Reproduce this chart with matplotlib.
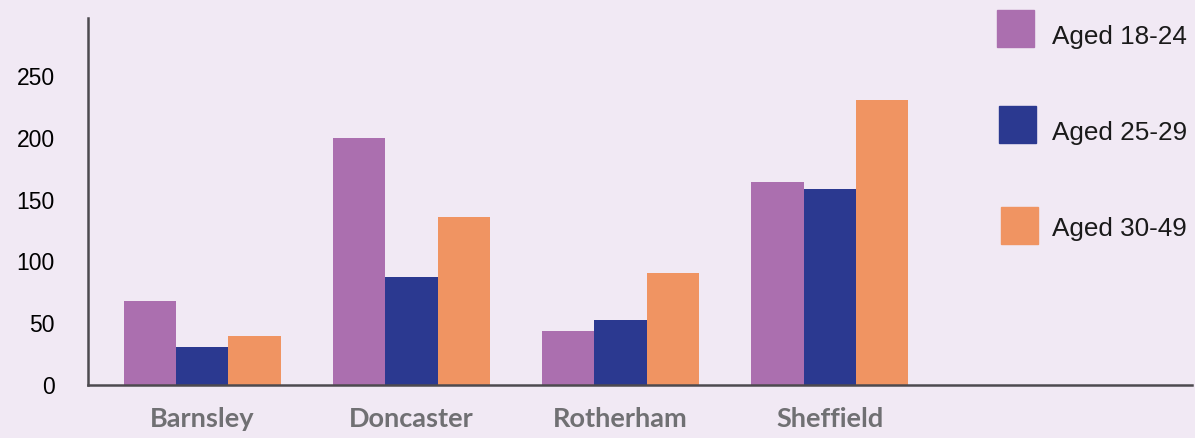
import matplotlib
matplotlib.use("Agg")
import matplotlib.pyplot as plt
from matplotlib.patches import Rectangle
import numpy as np

# data
areas = ["Barnsley", "Doncaster", "Rotherham", "Sheffield"]
series = ["Aged 18-24", "Aged 25-29", "Aged 30-49"]
aged_18_24 = [68, 200, 44, 164]
aged_25_29 = [31, 87, 53, 159]
aged_30_49 = [40, 136, 91, 231]
yticks = [0, 50, 100, 150, 200, 250]

colors = ["#ab6faf", "#2b3990", "#f09462"]
bg = "#f1e9f4"

fig = plt.figure(figsize=(11.95, 4.38), dpi=100, facecolor=bg)
ax = fig.add_axes([88 / 1195, 1 - 385 / 438, (1192 - 88) / 1195, (385 - 18) / 438])
ax.set_facecolor(bg)

x = np.arange(len(areas))
w = 0.25
for i, vals in enumerate([aged_18_24, aged_25_29, aged_30_49]):
    ax.bar(x + (i - 1) * w, vals, width=w, color=colors[i], label=series[i], zorder=2)

ax.set_xlim(-0.545, 4.73)
ax.set_ylim(0, 297)
ax.set_yticks(yticks)
ax.set_yticklabels([str(t) for t in yticks], fontsize=16.5, family="Liberation Sans", color="black")
ax.tick_params(axis="y", length=0, pad=24)
ax.set_xticks(x)
ax.set_xticklabels(areas, fontsize=19.5, family="Lato", fontweight="bold", color="#707073")
ax.tick_params(axis="x", length=0, pad=16)

for s in ["top", "right"]:
    ax.spines[s].set_visible(False)
for s in ["left", "bottom"]:
    ax.spines[s].set_color("#4d4a4f")
    ax.spines[s].set_linewidth(1.8)
    ax.spines[s].set_zorder(3)

# legend drawn by hand to keep the wide spacing
sq_x = [997, 999, 1001]
sq_y = [10, 106, 207]
txt_y = [37, 133, 229]
for i, name in enumerate(series):
    fig.patches.append(Rectangle((sq_x[i] / 1195, 1 - (sq_y[i] + 37) / 438), 37 / 1195, 37 / 438,
                                 transform=fig.transFigure, color=colors[i]))
    fig.text(1052 / 1195, 1 - txt_y[i] / 438, name, fontsize=18.8, family="Liberation Sans",
             color="#1a1a1a", va="center", ha="left")

fig.savefig("out.png", dpi=100, facecolor=bg)
